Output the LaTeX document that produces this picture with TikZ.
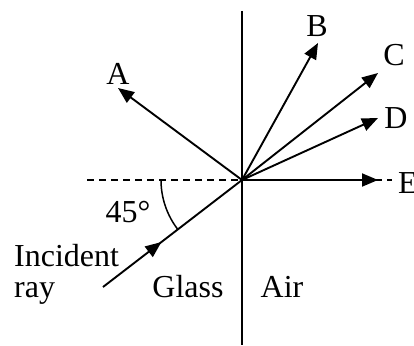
\documentclass[tikz,border=0pt]{standalone}
\usepackage{fontspec}
\setmainfont{Liberation Serif}
\usetikzlibrary{arrows.meta,decorations.markings,calc}
\begin{document}
\begin{tikzpicture}[x=1pt,y=-1pt,
  ray/.style={line width=1.9pt,-{Triangle[length=16pt,width=13pt]}},
  lbl/.style={font=\fontsize{32}{34}\selectfont,inner sep=0pt},
  midarrow/.style={postaction={decorate},decoration={markings,
    mark=at position 0.42 with {\arrow{Triangle[length=16pt,width=13pt]}}}}]
\useasboundingbox (0,0) rectangle (414,345);
\coordinate (O) at (242,180);
\coordinate (top) at (242,11);
\coordinate (bot) at (242,345);
\coordinate (dl) at (87,180);
\coordinate (dr) at (392,180);
\coordinate (S) at (103,287);
\coordinate (tA) at (118,88);
\coordinate (tB) at (318,43);
\coordinate (tC) at (378,73);
\coordinate (tD) at (378,118);
\coordinate (tE) at (378,180);
\draw[line width=1.6pt] (top) -- (bot);
\draw[line width=1.6pt,dash pattern=on 7pt off 5pt] (dl) -- (dr);
\draw[ray] (O) -- (tA);
\draw[ray] (O) -- (tB);
\draw[ray] (O) -- (tC);
\draw[ray] (O) -- (tD);
\draw[ray] (O) -- (tE);
\draw[line width=1.9pt,midarrow] (S) -- (O);
\draw[line width=1.5pt] ($(O)+(-81,0)$) arc[start angle=180,end angle=142.4,radius=81];
\node[lbl] (A) at (118,74) {A};
\node[lbl] (B) at (317,26) {B};
\node[lbl] (C) at (394,55) {C};
\node[lbl] (D) at (396,118) {D};
\node[lbl,anchor=west] (E) at (398,183) {E};
\node[lbl] (ang) at (128,212) {45°};
\node[lbl,anchor=west] (inc) at (14,256) {Incident};
\node[lbl,anchor=west] (ray) at (14,293) {ray};
\node[lbl] (glass) at (188,287) {Glass};
\node[lbl] (air) at (282,287) {Air};
\end{tikzpicture}
\end{document}
